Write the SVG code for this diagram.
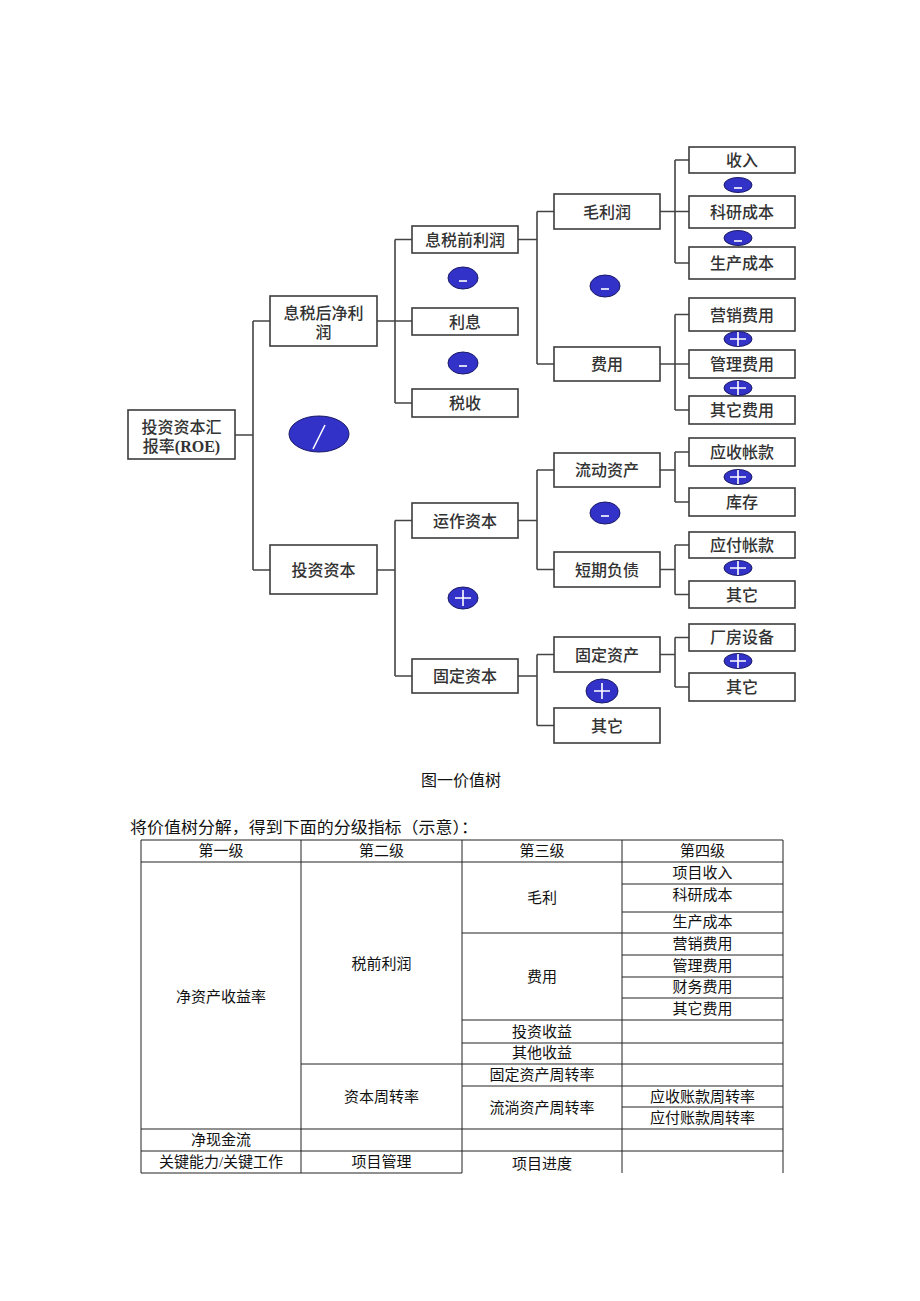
<svg xmlns="http://www.w3.org/2000/svg" width="920" height="1301" viewBox="0 0 920 1301">
<style>
.box{fill:#fff;stroke:#3c3c3c;stroke-width:1.6}
.bt{font-family:"Liberation Serif","Noto Sans CJK SC",serif;font-size:16px;font-weight:500;fill:#333;text-anchor:middle;dominant-baseline:central}
.lat{font-weight:bold}
.con{fill:none;stroke:#444;stroke-width:1.6}
.ov{fill:#3232c8;stroke:#1a1a66;stroke-width:1}
.sg{stroke:#fff;stroke-width:1.6;fill:none}
.tl{stroke:#222;stroke-width:1;fill:none}
.tt{font-family:"Liberation Serif","Noto Sans CJK SC",serif;font-size:15px;fill:#111;text-anchor:middle;dominant-baseline:central}
.pt{font-family:"Liberation Serif","Noto Sans CJK SC",serif;font-size:16px;fill:#111;dominant-baseline:central}
</style>
<rect width="920" height="1301" fill="#fff"/>

<g id="connectors">
<path class="con" d="M235,435H253M253,321V570M253,321H270M253,570H270"/>
<path class="con" d="M377,321H412M395,239.5V403M395,239.5H412M395,403H412"/>
<path class="con" d="M377,570H395M395,520.5V676M395,520.5H412M395,676H412"/>
<path class="con" d="M518,239.5H537M537,211.5V364M537,211.5H554M537,364H554"/>
<path class="con" d="M518,520.5H537M537,470V569.5M537,470H554M537,569.5H554"/>
<path class="con" d="M518,676H537M537,654.5V725.5M537,654.5H554M537,725.5H554"/>
<path class="con" d="M660,211.5H689M675,160V263M675,160H689M675,263H689"/>
<path class="con" d="M660,364H689M675,314.5V410M675,314.5H689M675,410H689"/>
<path class="con" d="M660,470H675M675,452V502M675,452H689M675,502H689"/>
<path class="con" d="M660,569.5H675M675,545V594.5M675,545H689M675,594.5H689"/>
<path class="con" d="M660,654.5H675M675,637.5V687M675,637.5H689M675,687H689"/>
</g>

<g id="n-roe"><rect class="box" x="128" y="410" width="107" height="49"/><text class="bt" x="181.5" y="427">投资资本汇</text><text class="bt" x="181.5" y="446">报率<tspan class="lat">(ROE)</tspan></text></g>
<g id="n-nopat"><rect class="box" x="270" y="296" width="107" height="50"/><text class="bt" x="323.5" y="313">息税后净利</text><text class="bt" x="323.5" y="332">润</text></g>
<g id="n-invcap"><rect class="box" x="270" y="545" width="107" height="49"/><text class="bt" x="323.5" y="570">投资资本</text></g>
<g id="n-ebit"><rect class="box" x="412" y="226" width="106" height="27"/><text class="bt" x="465" y="240">息税前利润</text></g>
<g id="n-interest"><rect class="box" x="412" y="308" width="106" height="27"/><text class="bt" x="465" y="322">利息</text></g>
<g id="n-tax"><rect class="box" x="412" y="389" width="106" height="28"/><text class="bt" x="465" y="403">税收</text></g>
<g id="n-wc"><rect class="box" x="412" y="503" width="106" height="35"/><text class="bt" x="465" y="521">运作资本</text></g>
<g id="n-fc"><rect class="box" x="412" y="659" width="106" height="34"/><text class="bt" x="465" y="676">固定资本</text></g>
<g id="n-gp"><rect class="box" x="554" y="194" width="106" height="35"/><text class="bt" x="607" y="212">毛利润</text></g>
<g id="n-exp"><rect class="box" x="554" y="347" width="106" height="34"/><text class="bt" x="607" y="364">费用</text></g>
<g id="n-ca"><rect class="box" x="554" y="453" width="106" height="34"/><text class="bt" x="607" y="470">流动资产</text></g>
<g id="n-cl"><rect class="box" x="554" y="552" width="106" height="35"/><text class="bt" x="607" y="570">短期负债</text></g>
<g id="n-fa"><rect class="box" x="554" y="637" width="106" height="35"/><text class="bt" x="607" y="655">固定资产</text></g>
<g id="n-other3"><rect class="box" x="554" y="708" width="106" height="35"/><text class="bt" x="607" y="726">其它</text></g>
<g id="n-rev"><rect class="box" x="689" y="147" width="106" height="26"/><text class="bt" x="742" y="160">收入</text></g>
<g id="n-rd"><rect class="box" x="689" y="196" width="106" height="32"/><text class="bt" x="742" y="212">科研成本</text></g>
<g id="n-pc"><rect class="box" x="689" y="247" width="106" height="32"/><text class="bt" x="742" y="263">生产成本</text></g>
<g id="n-mkt"><rect class="box" x="689" y="298" width="106" height="33"/><text class="bt" x="742" y="315">营销费用</text></g>
<g id="n-adm"><rect class="box" x="689" y="350" width="106" height="28"/><text class="bt" x="742" y="364">管理费用</text></g>
<g id="n-oexp"><rect class="box" x="689" y="396" width="106" height="28"/><text class="bt" x="742" y="410">其它费用</text></g>
<g id="n-ar"><rect class="box" x="689" y="438" width="106" height="28"/><text class="bt" x="742" y="452">应收帐款</text></g>
<g id="n-inv"><rect class="box" x="689" y="488" width="106" height="28"/><text class="bt" x="742" y="502">库存</text></g>
<g id="n-ap"><rect class="box" x="689" y="532" width="106" height="26"/><text class="bt" x="742" y="545">应付帐款</text></g>
<g id="n-other4a"><rect class="box" x="689" y="581" width="106" height="27"/><text class="bt" x="742" y="595">其它</text></g>
<g id="n-ppe"><rect class="box" x="689" y="624" width="106" height="27"/><text class="bt" x="742" y="637">厂房设备</text></g>
<g id="n-other4b"><rect class="box" x="689" y="673" width="106" height="28"/><text class="bt" x="742" y="687">其它</text></g>

<g id="operators">
<ellipse class="ov" cx="319" cy="434" rx="30" ry="18"/><path class="sg" d="M313,449L325,425" stroke-width="2"/>
<ellipse class="ov" cx="463" cy="278" rx="15" ry="11"/><path class="sg" d="M459,281H467"/>
<ellipse class="ov" cx="463" cy="363" rx="15" ry="11"/><path class="sg" d="M459,366H467"/>
<ellipse class="ov" cx="463" cy="598" rx="15" ry="11"/><path class="sg" d="M455,598H471M463,590V606"/>
<ellipse class="ov" cx="605" cy="286" rx="15" ry="11"/><path class="sg" d="M601,289H609"/>
<ellipse class="ov" cx="605" cy="513" rx="15" ry="11"/><path class="sg" d="M601,516H609"/>
<ellipse class="ov" cx="602" cy="691" rx="16" ry="12"/><path class="sg" d="M594,691H610M602,683V699"/>
<ellipse class="ov" cx="738" cy="185" rx="14" ry="7.5"/><path class="sg" d="M734,188H742"/>
<ellipse class="ov" cx="738" cy="238" rx="14" ry="7.5"/><path class="sg" d="M734,241H742"/>
<ellipse class="ov" cx="738" cy="339" rx="14" ry="7.5"/><path class="sg" d="M730,339H746M738,332V346"/>
<ellipse class="ov" cx="738" cy="388" rx="14" ry="7.5"/><path class="sg" d="M730,388H746M738,381V395"/>
<ellipse class="ov" cx="738" cy="477" rx="14" ry="7.5"/><path class="sg" d="M730,477H746M738,470V484"/>
<ellipse class="ov" cx="738" cy="568" rx="14" ry="7.5"/><path class="sg" d="M730,568H746M738,561V575"/>
<ellipse class="ov" cx="738" cy="661" rx="14" ry="7.5"/><path class="sg" d="M730,661H746M738,654V668"/>
</g>

<text class="pt" x="461" y="780" text-anchor="middle">图一价值树</text>
<text class="pt" x="130" y="827" textLength="348" lengthAdjust="spacingAndGlyphs">将价值树分解，得到下面的分级指标（示意）：</text>

<g id="table">
<path class="tl" d="M141,840H783M141,862H783M622,884H783M622,912H783M462,933H783M622,955H783M622,977H783M622,998H783M462,1020H783M462,1043H783M301,1064H783M462,1086H783M622,1107H783M141,1129H783M141,1151H783M141,1173H462"/>
<path class="tl" d="M141,840V1173M301,840V1173M462,840V1173M622,840V1173M783,840V1173"/>
<text class="tt" x="221" y="851">第一级</text>
<text class="tt" x="381.5" y="851">第二级</text>
<text class="tt" x="542" y="851">第三级</text>
<text class="tt" x="702.5" y="851">第四级</text>
<text class="tt" x="221" y="997">净资产收益率</text>
<text class="tt" x="381.5" y="964">税前利润</text>
<text class="tt" x="542" y="898">毛利</text>
<text class="tt" x="542" y="977">费用</text>
<text class="tt" x="702.5" y="873">项目收入</text>
<text class="tt" x="702.5" y="895">科研成本</text>
<text class="tt" x="702.5" y="922">生产成本</text>
<text class="tt" x="702.5" y="944">营销费用</text>
<text class="tt" x="702.5" y="966">管理费用</text>
<text class="tt" x="702.5" y="987">财务费用</text>
<text class="tt" x="702.5" y="1009">其它费用</text>
<text class="tt" x="542" y="1032">投资收益</text>
<text class="tt" x="542" y="1053">其他收益</text>
<text class="tt" x="381.5" y="1097">资本周转率</text>
<text class="tt" x="542" y="1075">固定资产周转率</text>
<text class="tt" x="542" y="1108">流淌资产周转率</text>
<text class="tt" x="702.5" y="1097">应收账款周转率</text>
<text class="tt" x="702.5" y="1118">应付账款周转率</text>
<text class="tt" x="221" y="1140">净现金流</text>
<text class="tt" x="221" y="1162">关键能力/关键工作</text>
<text class="tt" x="381.5" y="1162">项目管理</text>
<text class="tt" x="542" y="1164">项目进度</text>
</g>
</svg>
